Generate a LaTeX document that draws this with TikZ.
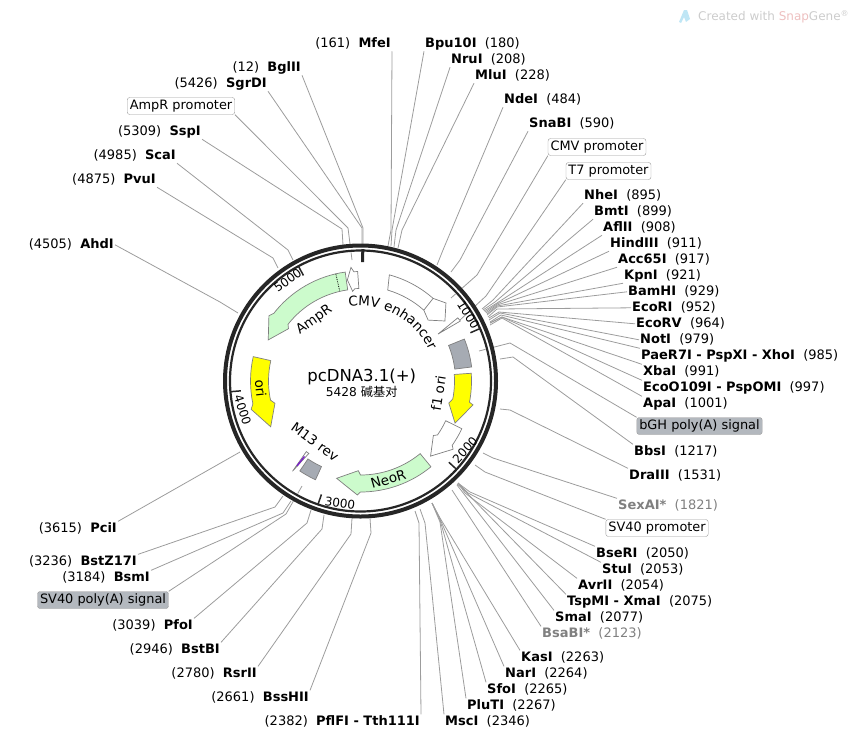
\documentclass[tikz,border=0pt]{standalone}
\usepackage{fontspec}
\setmainfont{DejaVu Sans}
\newfontfamily\cjkfam{Noto Sans CJK SC}
\usetikzlibrary{decorations.text}
\definecolor{clinea}{HTML}{9C9C9C}
\definecolor{cborde}{HTML}{7F7F7F}
\definecolor{cverde}{HTML}{CCFBCC}
\definecolor{camarillo}{HTML}{FFFF00}
\definecolor{cgris}{HTML}{A6ABB3}
\definecolor{cnegro}{HTML}{262626}
\definecolor{ctenue}{HTML}{808080}
\definecolor{crosa}{HTML}{EDBFBF}
\definecolor{cmarca}{HTML}{CCCCCC}
\definecolor{ccielo}{HTML}{BFE6F5}
\definecolor{cvioleta}{HTML}{7A22C9}
\tikzset{
  sitio/.style={font=\fontsize{13}{15}\selectfont, inner sep=1pt, text height=10pt, text depth=2.5pt, yshift=-1.8pt},
  sitiot/.style={sitio, text=ctenue},
  caja/.style={rectangle, rounded corners=2.5pt, draw=clinea, fill=white, minimum height=15pt,
    inner sep=2.5pt, text height=9.5pt, text depth=2.5pt, font=\fontsize{12.9}{15}\selectfont},
  cajag/.style={caja, fill=cgris!85},
  guia/.style={draw=clinea, line width=0.8pt},
  rasgo/.style={draw=cborde, line width=0.7pt},
  marca/.style={draw=cnegro, line width=1.5pt},
  etq/.style={font=\fontsize{13.5}{15}\selectfont, inner sep=0pt},
  escala/.style={font=\fontsize{12}{14}\selectfont, inner sep=0pt},
}
\begin{document}
\begin{tikzpicture}[x=1pt, y=-1pt]
  \useasboundingbox (0,0) rectangle (858,739);
  % top of the ring
  \node[sitio, anchor=east] (bgl) at (302,66) {(12)\ \ \textbf{BglII}};
  \node[sitio, anchor=east] (sgr) at (268,82) {(5426)\ \ \textbf{SgrDI}};
  \node[caja] (ampp) at (181,106) {AmpR promoter};
  \node[sitio, anchor=east] (ssp) at (202,130) {(5309)\ \ \textbf{SspI}};
  \node[sitio, anchor=east] (sca) at (177,154) {(4985)\ \ \textbf{ScaI}};
  \node[sitio, anchor=east] (pvu) at (157,178) {(4875)\ \ \textbf{PvuI}};
  \node[sitio, anchor=east] (ahd) at (115,243) {(4505)\ \ \textbf{AhdI}};
  \node[sitio, anchor=east] (mfe) at (392,42) {(161)\ \ \textbf{MfeI}};
  \node[sitio, anchor=west] (bpu) at (424,42) {\textbf{Bpu10I}\ \ (180)};
  \node[sitio, anchor=west] (nru) at (450,58) {\textbf{NruI}\ \ (208)};
  \node[sitio, anchor=west] (mlu) at (474,74) {\textbf{MluI}\ \ (228)};
  \node[sitio, anchor=west] (nde) at (503,98) {\textbf{NdeI}\ \ (484)};
  \node[sitio, anchor=west] (sna) at (528,122) {\textbf{SnaBI}\ \ (590)};
  \node[caja] (cmvp) at (597,147) {CMV promoter};
  \node[caja] (tsie) at (608.5,171) {T7 promoter};
  \coordinate (bgl0) at (363,252);
  \coordinate (sgr0) at (362,252);
  \coordinate (ampp0) at (352,260);
  \coordinate (ssp0) at (343,245);
  \coordinate (sca0) at (293,260);
  \coordinate (pvu0) at (278,268);
  \coordinate (ahd0) at (238,313);
  \coordinate (mfe0) at (388,246);
  \coordinate (bpu0) at (391,246);
  \coordinate (nru0) at (394,247);
  \coordinate (mlu0) at (398,248);
  \coordinate (nde0) at (437,265);
  \coordinate (sna0) at (451,272);
  \coordinate (cmvp0) at (451,298);
  \coordinate (tsie0) at (460,320);
  \draw[guia] (bgl.south east) -- (363,228) -- (bgl0);
  \draw[guia] (sgr.south east) -- (362,228) -- (sgr0);
  \draw[guia] (ampp.south east) -- (348,228) -- (ampp0);
  \draw[guia] (ssp.south east) -- (342,229) -- (ssp0);
  \draw[guia] (sca.south east) -- (288,250) -- (sca0);
  \draw[guia] (pvu.south east) -- (273,258) -- (pvu0);
  \draw[guia] (ahd.east) -- (220,302) -- (ahd0);
  \draw[guia] (mfe.south east) -- (391,230) -- (mfe0);
  \draw[guia] (bpu.south west) -- (392,230) -- (bpu0);
  \draw[guia] (nru.south west) -- (396,230) -- (nru0);
  \draw[guia] (mlu.south west) -- (402,230) -- (mlu0);
  \draw[guia] (nde.south west) -- (443,250) -- (nde0);
  \draw[guia] (sna.south west) -- (460,260) -- (sna0);
  \draw[guia] (cmvp.south west) -- (477,275) -- (cmvp0);
  \draw[guia] (tsie.south west) -- (486,296) -- (tsie0);
  % right side
  \node[sitio, anchor=west] (nhe) at (583,194) {\textbf{NheI}\ \ (895)};
  \node[sitio, anchor=west] (bmt) at (593,210) {\textbf{BmtI}\ \ (899)};
  \node[sitio, anchor=west] (afl) at (602,226) {\textbf{AflII}\ \ (908)};
  \node[sitio, anchor=west] (hin) at (609,242) {\textbf{HindIII}\ \ (911)};
  \node[sitio, anchor=west] (acc) at (617,258) {\textbf{Acc65I}\ \ (917)};
  \node[sitio, anchor=west] (kpn) at (623,274) {\textbf{KpnI}\ \ (921)};
  \node[sitio, anchor=west] (bam) at (627,290) {\textbf{BamHI}\ \ (929)};
  \node[sitio, anchor=west] (ecr) at (631,306) {\textbf{EcoRI}\ \ (952)};
  \node[sitio, anchor=west] (ecv) at (635,322) {\textbf{EcoRV}\ \ (964)};
  \node[sitio, anchor=west] (not) at (639,338) {\textbf{NotI}\ \ (979)};
  \node[sitio, anchor=west] (pae) at (640,354) {\textbf{PaeR7I - PspXI - XhoI}\ \ (985)};
  \node[sitio, anchor=west] (xba) at (642,370) {\textbf{XbaI}\ \ (991)};
  \node[sitio, anchor=west] (eco) at (642,386) {\textbf{EcoO109I - PspOMI}\ \ (997)};
  \node[sitio, anchor=west] (apa) at (642,402) {\textbf{ApaI}\ \ (1001)};
  \node[cajag] (bgh) at (699.5,426) {bGH poly(A) signal};
  \node[sitio, anchor=west] (bbs) at (633,450) {\textbf{BbsI}\ \ (1217)};
  \node[sitio, anchor=west] (dra) at (628,474) {\textbf{DraIII}\ \ (1531)};
  \coordinate (nhe0) at (482,309);
  \coordinate (bmt0) at (483,310);
  \coordinate (afl0) at (484,311);
  \coordinate (hin0) at (485,312);
  \coordinate (acc0) at (486,313);
  \coordinate (kpn0) at (487,314);
  \coordinate (bam0) at (487,315);
  \coordinate (ecr0) at (488,317);
  \coordinate (ecv0) at (489,318);
  \coordinate (not0) at (489,320);
  \coordinate (pae0) at (490,322);
  \coordinate (xba0) at (490,323);
  \coordinate (eco0) at (490,323);
  \coordinate (apa0) at (490,325);
  \coordinate (bgh0) at (479,351);
  \coordinate (bbs0) at (500,359);
  \coordinate (dra0) at (500,409);
  \draw[guia] (nhe.south west) -- (493,300) -- (nhe0);
  \draw[guia] (bmt.south west) -- (495,302) -- (bmt0);
  \draw[guia] (afl.south west) -- (497,303) -- (afl0);
  \draw[guia] (hin.south west) -- (497,304) -- (hin0);
  \draw[guia] (acc.south west) -- (497,305) -- (acc0);
  \draw[guia] (kpn.south west) -- (497,306) -- (kpn0);
  \draw[guia] (bam.west) -- (497,307) -- (bam0);
  \draw[guia] (ecr.west) -- (497,309) -- (ecr0);
  \draw[guia] (ecv.west) -- (499,312) -- (ecv0);
  \draw[guia] (not.west) -- (500,313) -- (not0);
  \draw[guia] (pae.north west) -- (501,315) -- (pae0);
  \draw[guia] (xba.north west) -- (502,317) -- (xba0);
  \draw[guia] (eco.north west) -- (502,317) -- (eco0);
  \draw[guia] (apa.north west) -- (502,318) -- (apa0);
  \draw[guia] (bgh.north west) -- (510,343) -- (bgh0);
  \draw[guia] (bbs.north west) -- (513,357) -- (bbs0);
  \draw[guia] (dra.north west) -- (510,410) -- (dra0);
  % lower right
  \node[sitiot, anchor=west] (sex) at (617,504) {\textbf{SexAI*}\ \ (1821)};
  \node[caja] (svp) at (657,528) {SV40 promoter};
  \node[sitio, anchor=west] (bse) at (595,552) {\textbf{BseRI}\ \ (2050)};
  \node[sitio, anchor=west] (stu) at (601,568) {\textbf{StuI}\ \ (2053)};
  \node[sitio, anchor=west] (avr) at (577,584) {\textbf{AvrII}\ \ (2054)};
  \node[sitio, anchor=west] (tsp) at (566,600) {\textbf{TspMI - XmaI}\ \ (2075)};
  \node[sitio, anchor=west] (sma) at (554,616) {\textbf{SmaI}\ \ (2077)};
  \node[sitiot, anchor=west] (bsa) at (541,632) {\textbf{BsaBI*}\ \ (2123)};
  \node[sitio, anchor=west] (kas) at (520,656) {\textbf{KasI}\ \ (2263)};
  \node[sitio, anchor=west] (nar) at (504,672) {\textbf{NarI}\ \ (2264)};
  \node[sitio, anchor=west] (sfo) at (486,688) {\textbf{SfoI}\ \ (2265)};
  \node[sitio, anchor=west] (plu) at (466,704) {\textbf{PluTI}\ \ (2267)};
  \node[sitio, anchor=west] (msc) at (444,720) {\textbf{MscI}\ \ (2346)};
  \coordinate (sex0) at (483,453);
  \coordinate (svp0) at (475,465);
  \coordinate (bse0) at (458,483);
  \coordinate (stu0) at (458,483);
  \coordinate (avr0) at (458,483);
  \coordinate (tsp0) at (457,484);
  \coordinate (sma0) at (457,485);
  \coordinate (bsa0) at (452,490);
  \coordinate (kas0) at (432,503);
  \coordinate (nar0) at (432,503);
  \coordinate (sfo0) at (432,503);
  \coordinate (plu0) at (432,503);
  \coordinate (msc0) at (420,509);
  \draw[guia] (sex.north west) -- (493,458) -- (sex0);
  \draw[guia] (svp.north west) -- (485,472) -- (svp0);
  \draw[guia] (bse.north west) -- (470,492) -- (bse0);
  \draw[guia] (stu.north west) -- (468,493) -- (stu0);
  \draw[guia] (avr.north west) -- (465,493) -- (avr0);
  \draw[guia] (tsp.north west) -- (462,488) -- (tsp0);
  \draw[guia] (sma.north west) -- (sma0);
  \draw[guia] (bsa.north west) -- (bsa0);
  \draw[guia] (kas.north west) -- (440,518) -- (kas0);
  \draw[guia] (nar.north west) -- (440,519) -- (nar0);
  \draw[guia] (sfo.north west) -- (440,520) -- (sfo0);
  \draw[guia] (plu.north west) -- (440,522) -- (plu0);
  \draw[guia] (msc.north west) -- (425,523) -- (msc0);
  % lower left
  \node[sitio, anchor=east] (pfl) at (421,720) {(2382)\ \ \textbf{PflFI - Tth111I}};
  \node[sitio, anchor=east] (bss) at (310,696) {(2661)\ \ \textbf{BssHII}};
  \node[sitio, anchor=east] (rsr) at (258,672) {(2780)\ \ \textbf{RsrII}};
  \node[sitio, anchor=east] (bst) at (221,648) {(2946)\ \ \textbf{BstBI}};
  \node[sitio, anchor=east] (pfo) at (194,624) {(3039)\ \ \textbf{PfoI}};
  \node[cajag] (svs) at (103,600) {SV40 poly(A) signal};
  \node[sitio, anchor=east] (bsm) at (151,576) {(3184)\ \ \textbf{BsmI}};
  \node[sitio, anchor=east] (bz) at (138,560) {(3236)\ \ \textbf{BstZ17I}};
  \node[sitio, anchor=east] (pci) at (118,527) {(3615)\ \ \textbf{PciI}};
  \coordinate (pfl0) at (415,511);
  \coordinate (bss0) at (370,518);
  \coordinate (rsr0) at (352,518);
  \coordinate (bst0) at (324,515);
  \coordinate (pfo0) at (311,510);
  \coordinate (svs0) at (302,486);
  \coordinate (bsm0) at (291,501);
  \coordinate (bz0) at (283,496);
  \coordinate (pci0) at (240,452);
  \draw[guia] (pfl.north east) -- (419,523) -- (pfl0);
  \draw[guia] (bss.north east) -- (371,533) -- (bss0);
  \draw[guia] (rsr.north east) -- (351,534) -- (rsr0);
  \draw[guia] (bst.north east) -- (322,529) -- (bst0);
  \draw[guia] (pfo.north east) -- (307,523) -- (pfo0);
  \draw[guia] (svs.north east) -- (286,514) -- (svs0);
  \draw[guia] (bsm.north east) -- (283,513) -- (bsm0);
  \draw[guia] (bz.north east) -- (275,507) -- (bz0);
  \draw[guia] (pci.north east) -- (pci0);
  % the plasmid itself
  \begin{scope}[shift={(360.5,381)}]
    \draw[white, line width=8pt] (0,0) circle (133);
    \draw[cnegro, line width=4pt] (0,0) circle (135.5);
    \draw[cnegro, line width=2.2pt] (0,0) circle (130.5);
    \draw[cnegro, line width=3pt] (-89:119) -- (-89:132);
    \draw[marca] (-23.7:120) -- (-23.7:131);
    \draw[marca] (42.6:120) -- (42.6:131);
    \draw[marca] (109:120) -- (109:131);
    \draw[marca] (175.3:120) -- (175.3:131);
    \draw[marca] (241.6:120) -- (241.6:131);
    % features
    \draw[rasgo, fill=cverde] (262:110) arc[start angle=262, end angle=218, radius=110]
      -- (215.5:112.5) -- (204:101) -- (216:89) -- (218:92)
      arc[start angle=218, end angle=262, radius=92] -- cycle;
    \draw[densely dotted, black, line width=0.8pt] (257:110) -- (257:92);
    \draw[rasgo, fill=white] (268.5:109.5) -- (266.5:109.5) -- (265.2:114) -- (262.6:102)
      -- (265:90) -- (266.5:92.5) -- (269:92.5) -- cycle;
    \draw[rasgo, fill=white] (-74.8:110) arc[start angle=-74.8, end angle=-48.7, radius=110]
      -- (-42.4:115.7) -- (-35.4:103.6) -- (-42:91) -- (-48.2:95)
      arc[start angle=-48.2, end angle=-73.6, radius=94] -- cycle;
    \draw[rasgo] (-48.7:110) -- (-48.2:95);
    \draw[rasgo, fill=white] (-31.2:90.6) -- (-33:116) -- (-31:116.5) -- cycle;
    \draw[rasgo, fill=cgris] (-22:112) arc[start angle=-22, end angle=-7.2, radius=112]
      -- (-7.2:95) arc[start angle=-7.2, end angle=-22, radius=95] -- cycle;
    \draw[rasgo, fill=camarillo] (-4:111) arc[start angle=-4, end angle=11, radius=111]
      -- (12:115) -- (24:103.5) -- (14:91) -- (11:94)
      arc[start angle=11, end angle=-4, radius=94] -- cycle;
    \draw[rasgo, fill=white] (25.2:112) arc[start angle=25.2, end angle=35, radius=112]
      -- (36.4:115) -- (47:102.7) -- (36.8:91) -- (35:94)
      arc[start angle=35, end angle=25, radius=94] -- cycle;
    \draw[rasgo, fill=cverde] (50.6:111) arc[start angle=50.6, end angle=90, radius=111]
      -- (91.6:114) -- (103.8:100.2) -- (91.4:89.7) -- (90:94)
      arc[start angle=90, end angle=50.6, radius=94] -- cycle;
    \draw[rasgo, fill=cgris] (114.5:108.5) arc[start angle=114.5, end angle=124, radius=108.5]
      -- (124:94) arc[start angle=124, end angle=114.5, radius=94] -- cycle;
    \draw[rasgo, fill=white] (127:113) -- (125.5:89) -- (127.5:89) -- cycle;
    \draw[cvioleta, line width=1.4pt] (126.8:106) -- (126.6:94);
    \draw[rasgo, fill=camarillo] (192.8:110) arc[start angle=192.8, end angle=168, radius=110]
      -- (165.5:113) -- (153:100.8) -- (165.4:88.4) -- (168:92)
      arc[start angle=168, end angle=192.8, radius=92] -- cycle;
    % curved label
    \path[decorate, decoration={text along path, text align=center,
      text={|\fontsize{13.5}{15}\selectfont|CMV enhancer}}]
      (252:75) arc[start angle=252, end angle=345, radius=75];
  \end{scope}
  % labels inside the ring
  \node[escala, rotate=-58] (tmil) at (468.3,315) {1000};
  \node[escala, rotate=48] (tdos) at (465,450) {2000};
  \node[escala, rotate=-8] (ttres) at (340,503.3) {3000};
  \node[escala, rotate=-72] (tcua) at (242.7,410) {4000};
  \node[escala, rotate=36] (tcin) at (287.7,280) {5000};
  \node[etq, rotate=35] (lamp) at (314.3,320) {AmpR};
  \node[etq, rotate=16] (lneo) at (388.3,479.3) {NeoR};
  \node[etq, rotate=-84] (lori) at (260.7,388.3) {ori};
  \node[etq, rotate=81] (lfuno) at (438.3,393.3) {f1 ori};
  \node[etq, rotate=-36] (lmtr) at (315,441.7) {M13 rev};
  \node[font=\fontsize{16.5}{18}\selectfont, inner sep=0pt] (titulo) at (361.7,376.7) {pcDNA3.1(+)};
  \node[font=\fontsize{12.2}{14}\selectfont, inner sep=0pt] (pares) at (361.7,392.3) {5428 {\cjkfam 碱基对}};
  % watermark
  \fill[ccielo] (684,10) -- (687,10) -- (690,19) -- (686,22) -- (684,17) -- (681,23) -- (679,22) -- cycle;
  \node[anchor=west, inner sep=0pt, text=cmarca, font=\fontsize{12}{14}\selectfont] (marcaagua) at (698,17)
    {Created with \textcolor{crosa}{Snap}Gene\textsuperscript{®}};
\end{tikzpicture}
\end{document}
